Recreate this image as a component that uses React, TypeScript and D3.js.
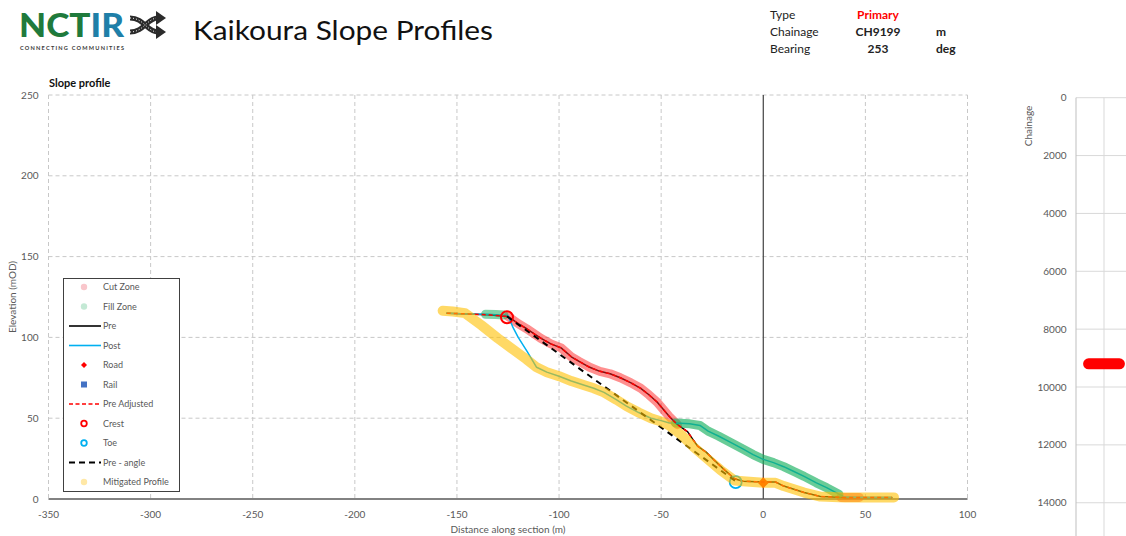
import React from 'react'
import * as d3 from 'd3'

// ---- data ----
const xTicks = [-350, -300, -250, -200, -150, -100, -50, 0, 50, 100]
const yTicks = [0, 50, 100, 150, 200, 250]
const chainTicks = [0, 2000, 4000, 6000, 8000, 10000, 12000, 14000, 16000]

const headerLabels = ['Type', 'Chainage', 'Bearing']
const headerValues = ['Primary', 'CH9199', '253']
const headerUnits = ['', 'm', 'deg']

const prePoints: [number, number][] = [
  [-155, 115], [-145, 114.5], [-135, 114], [-125, 113], [-120, 108.5], [-116, 105.5],
  [-109, 99.5], [-104, 96], [-99, 93.5], [-94, 88], [-90, 85], [-85, 81.5], [-80, 79],
  [-75, 77.5], [-70, 75], [-65, 72], [-60, 68.5], [-56, 64.5], [-52, 60], [-49, 55.5],
  [-46, 51], [-42, 46], [-37, 41.5], [-34, 36], [-32, 32.5], [-28, 29], [-24, 24],
  [-19, 18], [-14, 12.5], [-10, 11], [0, 10.5], [6, 10.5], [10, 8], [15, 6], [20, 4],
  [28, 1.5], [40, 1], [50, 1], [63, 1],
]
const preAdjustedPoints = prePoints

const postPoints: [number, number][] = [
  [-155, 115], [-145, 114.5], [-135, 114.3], [-125, 113.5], [-122.5, 106], [-120, 100],
  [-115.5, 91], [-111, 81.5], [-106, 78.5], [-100, 76], [-94, 73], [-88, 70.5],
  [-83, 68.5], [-78, 66], [-72, 61.5], [-67, 57.5], [-61, 53.5], [-55, 50], [-50, 48.5],
  [-46, 47], [-43, 47], [-36, 46.5], [-31, 45.5], [-27, 42], [-22, 39], [-16, 35],
  [-10, 31], [-5, 27.5], [0, 24.5], [5, 22.5], [10, 20], [15, 17], [20, 14], [26, 10],
  [31, 7], [37, 3], [40, 1.2], [50, 1], [63, 1],
]

const cutZoneA: [number, number][] = prePoints.filter(p => p[0] >= -125 && p[0] <= -42)
const cutZoneB: [number, number][] = [[38, 1], [42, 1], [47, 1]]
const fillZoneA: [number, number][] = [[-136, 114.3], [-131, 114.2], [-127, 113.8]]
const fillZoneB: [number, number][] = postPoints.filter(p => p[0] >= -44 && p[0] <= 39)

const mitigatedPoints: [number, number][] = [
  [-157, 116.5], [-152, 116], [-146, 115], [-138, 107.5], [-130, 99.5], [-122, 92],
  [-116, 86.5], [-111, 81.5], [-106, 78.5], [-100, 76], [-94, 73], [-88, 70.5],
  [-83, 68.5], [-78, 66], [-72, 61.5], [-67, 57.5], [-61, 53.5], [-55, 50], [-50, 48],
  [-46, 45.5], [-40, 39.5], [-34, 32], [-28, 25.5], [-21, 18], [-14, 11.5], [-10, 11],
  [0, 10], [6, 10], [10, 8], [15, 6], [20, 4], [28, 1.5], [40, 1], [50, 1], [64, 1],
]

const preAnglePoints: [number, number][] = [[-125.5, 113], [-13.5, 11]]
const crestPoint: [number, number] = [-125.5, 112.5]
const toePoint: [number, number] = [-13.5, 10.5]
const roadPoint: [number, number] = [0, 10]

const chainageValue = 9199
const chainBar: [number, number] = [0.45, 1.55]

const legendItems = [
  'Cut Zone', 'Fill Zone', 'Pre', 'Post', 'Road', 'Rail',
  'Pre Adjusted', 'Crest', 'Toe', 'Pre - angle', 'Mitigated Profile',
]

const font = 'Lato, "Open Sans", sans-serif'
const grey = '#595959'

function Legend() {
  const top = 287
  const step = 19.5
  const sx = 84
  const symbol = (name: string, y: number) => {
    switch (name) {
      case 'Cut Zone': return <circle cx={sx} cy={y} r={3.2} fill="#f9c6cb" />
      case 'Fill Zone': return <circle cx={sx} cy={y} r={3.2} fill="#c4e9d5" />
      case 'Pre': return <line x1={69} x2={101} y1={y} y2={y} stroke="#000" strokeWidth={1.6} />
      case 'Post': return <line x1={69} x2={101} y1={y} y2={y} stroke="#00b0f0" strokeWidth={1.6} />
      case 'Road': return <path d={d3.symbol(d3.symbolSquare, 18)() || ''} transform={`translate(${sx},${y}) rotate(45)`} fill="#ff0000" />
      case 'Rail': return <rect x={sx - 3} y={y - 3} width={6} height={6} fill="#4472c4" />
      case 'Pre Adjusted': return <line x1={69} x2={101} y1={y} y2={y} stroke="#ff0000" strokeWidth={1.6} strokeDasharray="4 2.5" />
      case 'Crest': return <circle cx={sx} cy={y} r={2.8} fill="none" stroke="#ff0000" strokeWidth={1.8} />
      case 'Toe': return <circle cx={sx} cy={y} r={2.8} fill="none" stroke="#00b0f0" strokeWidth={1.8} />
      case 'Pre - angle': return <line x1={69} x2={101} y1={y} y2={y} stroke="#000" strokeWidth={1.8} strokeDasharray="6 4" />
      default: return <circle cx={sx} cy={y} r={3.2} fill="#ffe8a6" />
    }
  }
  return (
    <g>
      <rect x={63.5} y={278.5} width={116} height={213} fill="#fff" stroke="#404040" strokeWidth={1} />
      {legendItems.map((name, i) => {
        const y = top + i * step
        return (
          <g key={name}>
            {symbol(name, y)}
            <text x={103} y={y + 3.2} fontSize={9} fill={grey} fontFamily={font}>{name}</text>
          </g>
        )
      })}
    </g>
  )
}

function Logo() {
  return (
    <g>
      <text x={19} y={37} fontSize={32} fontWeight={900} fontFamily={font} textLength={105} lengthAdjust="spacingAndGlyphs">
        <tspan fill="#1f7a3c">NCT</tspan><tspan fill="#1f7fa8">IR</tspan>
      </text>
      <text x={20} y={50} fontSize={5.6} fontWeight={700} fill="#3a3a3a" fontFamily={font} textLength={104}>CONNECTING COMMUNITIES</text>
      <g fill="none" stroke="#2b2b2b" strokeWidth={5}>
        <path d="M130,18 C144,18 147,32 158,32" />
        <path d="M130,32 C144,32 147,18 158,18" />
      </g>
      <g fill="none" stroke="#fff" strokeWidth={1} strokeDasharray="1 2">
        <path d="M130,18 C144,18 147,32 158,32" />
        <path d="M130,32 C144,32 147,18 158,18" />
      </g>
      <path d="M156,11 L166,18 L156,25 Z" fill="#2b2b2b" />
      <path d="M156,25 L166,32 L156,39 Z" fill="#2b2b2b" />
    </g>
  )
}

export default function App() {
  const W = 1126
  const H = 536
  const x = d3.scaleLinear().domain([-350, 100]).range([48.5, 967.5])
  const y = d3.scaleLinear().domain([0, 250]).range([499, 95])
  const line = d3.line<[number, number]>().x(d => x(d[0])).y(d => y(d[1]))

  const cy = d3.scaleLinear().domain([0, 16000]).range([97.7, 560.6])
  const cx = d3.scaleLinear().domain([0, 1]).range([1076, 1104])

  const diamond = d3.symbol(d3.symbolSquare, 60)() || ''

  return (
    <svg width={W} height={H} style={{ position: 'absolute', left: 0, top: 0, display: 'block', background: '#fff' }}>
      <rect width={W} height={H} fill="#fff" />
      <Logo />
      <text x={193} y={40} fontSize={27.5} fontFamily={font} fill="#111" textLength={300} lengthAdjust="spacingAndGlyphs">Kaikoura Slope Profiles</text>

      {headerLabels.map((t, i) => (
        <g key={t} fontFamily={font} fontSize={12}>
          <text x={770} y={18.5 + i * 17} fill="#222">{t}</text>
          <text x={878} y={18.5 + i * 17} textAnchor="middle" fontWeight={700}
            fill={i === 0 ? '#ff0000' : '#222'}>{headerValues[i]}</text>
          <text x={936} y={18.5 + i * 17} fontWeight={700} fill="#222">{headerUnits[i]}</text>
        </g>
      ))}

      <text x={49} y={87} fontSize={11} fontWeight={700} fontFamily={font} fill="#111">Slope profile</text>

      {/* grid */}
      <g stroke="#c8c8c8" strokeWidth={1} strokeDasharray="4 3">
        {yTicks.filter(t => t > 0).map(t => (
          <line key={'gy' + t} x1={x(-350)} x2={x(100)} y1={y(t)} y2={y(t)} />
        ))}
        {xTicks.filter(t => t !== 0).map(t => (
          <line key={'gx' + t} x1={x(t)} x2={x(t)} y1={y(250)} y2={y(0)} />
        ))}
      </g>
      <line x1={x(0)} x2={x(0)} y1={y(250)} y2={y(0)} stroke="#404040" strokeWidth={1.2} />
      <line x1={x(-350)} x2={x(100)} y1={y(0)} y2={y(0)} stroke="#595959" strokeWidth={1.3} />

      {/* tick labels */}
      <g fontFamily={font} fontSize={10} fill={grey}>
        {yTicks.map(t => (
          <text key={'ty' + t} x={38.5} y={y(t) + 3.5} textAnchor="end">{t}</text>
        ))}
        {xTicks.map(t => (
          <text key={'tx' + t} x={x(t)} y={517.5} textAnchor="middle">{t}</text>
        ))}
        <text x={508} y={533} textAnchor="middle">Distance along section (m)</text>
        <text transform={`translate(16,297) rotate(-90)`} textAnchor="middle">Elevation  (mOD)</text>
      </g>

      {/* series */}
      <g fill="none" strokeLinecap="round" strokeLinejoin="round">
        <path d={line(prePoints) || ''} stroke="#000" strokeWidth={1.5} />
        <path d={line(cutZoneA) || ''} stroke="#ff2020" strokeOpacity={0.5} strokeWidth={9} />
        <path d={line(cutZoneB) || ''} stroke="#ff2020" strokeOpacity={0.5} strokeWidth={9} />
        <path d={line(postPoints) || ''} stroke="#00b0f0" strokeWidth={1.5} />
        <path d={line(fillZoneA) || ''} stroke="#19b060" strokeOpacity={0.55} strokeWidth={9} />
        <path d={line(fillZoneB) || ''} stroke="#19b060" strokeOpacity={0.65} strokeWidth={9} />
        <path d={diamond} transform={`translate(${x(roadPoint[0])},${y(roadPoint[1])}) rotate(45)`} fill="#ff2a00" stroke="none" />
        <path d={line(preAdjustedPoints) || ''} stroke="#ff0000" strokeWidth={1.5} strokeDasharray="4 3" strokeLinecap="butt" />
        <circle cx={x(crestPoint[0])} cy={y(crestPoint[1])} r={6} stroke="#ff0000" strokeWidth={2} />
        <circle cx={x(toePoint[0])} cy={y(toePoint[1])} r={6} stroke="#00b0f0" strokeWidth={1.8} />
        <path d={line(preAnglePoints) || ''} stroke="#000" strokeWidth={2} strokeDasharray="6 5" strokeLinecap="butt" />
        <path d={line(mitigatedPoints) || ''} stroke="#ffc000" strokeOpacity={0.6} strokeWidth={10} />
      </g>

      <Legend />

      {/* chainage strip */}
      <g>
        {chainTicks.map(t => (
          <line key={'cg' + t} x1={cx(0)} x2={W} y1={cy(t)} y2={cy(t)} stroke="#d9d9d9" strokeWidth={1} />
        ))}
        <line x1={cx(1)} x2={cx(1)} y1={cy(0)} y2={H} stroke="#d9d9d9" strokeWidth={1} />
        <line x1={cx(0)} x2={cx(0)} y1={cy(0)} y2={H} stroke="#bfbfbf" strokeWidth={1} />
        {chainTicks.filter(t => cy(t) < H - 10).map(t => (
          <text key={'ct' + t} x={1066.5} y={cy(t) + 3.5} textAnchor="end" fontSize={10} fontFamily={font} fill={grey}>{t}</text>
        ))}
        <text transform={`translate(1032,126) rotate(-90)`} textAnchor="middle" fontSize={10} fontFamily={font} fill={grey}>Chainage</text>
        <line x1={cx(chainBar[0])} x2={cx(chainBar[1])} y1={cy(chainageValue)} y2={cy(chainageValue)}
          stroke="#ff0000" strokeWidth={11} strokeLinecap="round" />
      </g>
    </svg>
  )
}
